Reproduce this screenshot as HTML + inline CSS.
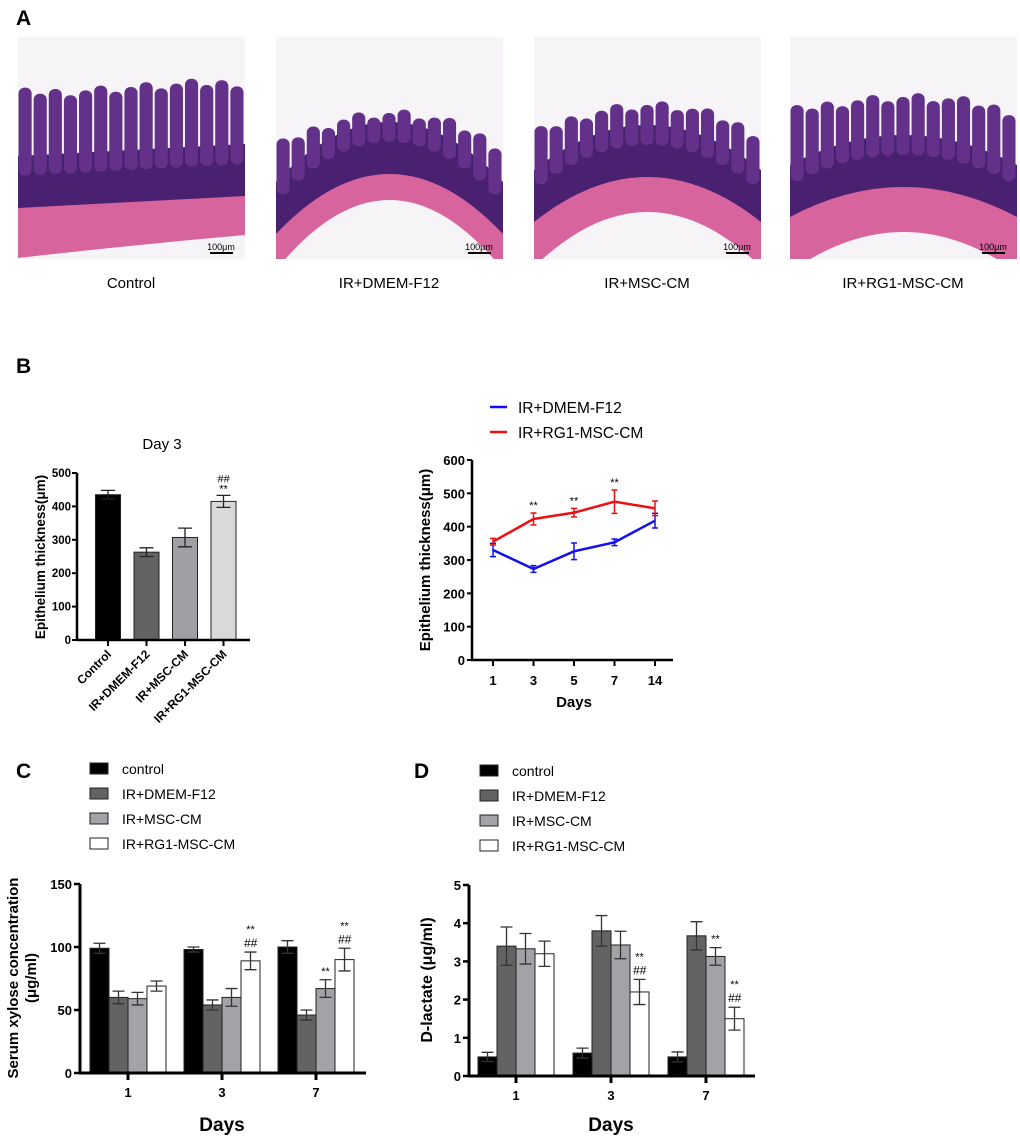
<!DOCTYPE html>
<html><head><meta charset="utf-8">
<style>
body{margin:0;background:#fff;font-family:"Liberation Sans",Arial,sans-serif;}
svg text{font-family:"Liberation Sans",Arial,sans-serif;}
</style></head>
<body>
<svg id="fig" width="1020" height="1141" viewBox="0 0 1020 1141" xmlns="http://www.w3.org/2000/svg">
<rect width="1020" height="1141" fill="#fff"/>
<g font-weight="bold" font-size="21" fill="#000">
<text x="16" y="25">A</text>
<text x="16" y="373">B</text>
<text x="16" y="778">C</text>
<text x="414" y="778">D</text>
</g>
<g id="histo"></g>
<g font-size="15" text-anchor="middle">
<text x="131" y="288">Control</text>
<text x="389" y="288">IR+DMEM-F12</text>
<text x="647" y="288">IR+MSC-CM</text>
<text x="903" y="288">IR+RG1-MSC-CM</text>
</g>
<g id="chartB1"></g>
<g id="chartB2"></g>
<g id="chartC"></g>
<g id="chartD"></g>
</svg>
<script>
const NS="http://www.w3.org/2000/svg";
function mk(parent,tag,attrs,text){const e=document.createElementNS(NS,tag);for(const k in attrs)e.setAttribute(k,attrs[k]);if(text!==undefined)e.textContent=text;parent.appendChild(e);return e;}

// ---------- Histology (illustrative) ----------
const histoPanels=[
 {x:18,w:227,vt:82,vc:0,pt:200,pc:0,pb:245,s:-6,lumen:null,name:'histology-control'},
 {x:276,w:227,vt:108,vc:35,pt:172,pc:60,pb:0,s:0,lumen:[200,70],name:'histology-ir-dmem'},
 {x:534,w:227,vt:100,vc:30,pt:175,pc:45,pb:0,s:0,lumen:[212,55],name:'histology-ir-msc'},
 {x:790,w:227,vt:92,vc:15,pt:185,pc:30,pb:0,s:0,lumen:[232,40],name:'histology-ir-rg1'}
];
const H=document.getElementById('histo');
histoPanels.forEach(p=>{
 const g=mk(H,'g',{});
 
 
 const clipId='clip-'+p.name;
 const cp=mk(g,'clipPath',{id:clipId});
 mk(cp,'rect',{x:p.x,y:37,width:p.w,height:222});
 const inner=mk(g,'g',{'clip-path':`url(#${clipId})`});
 mk(inner,'rect',{x:p.x,y:37,width:p.w,height:222,fill:'#f7f4f7'});
 const X=t=>p.x+(t+1)/2*p.w;
 const f=(b,c,t)=>b+c*t*t+p.s*t;
 const N=40,ts=[];for(let i=0;i<=N;i++)ts.push(-1+2*i/N);
 const line=(b,c)=>ts.map(t=>X(t)+' '+f(b,c,t));
 // pink layer: from pt down to bottom
 mk(inner,'path',{d:'M'+line(p.pt,p.pc).join(' L')+` L${p.x+p.w} 260 L${p.x} 260 Z`,fill:'#d8649e'});
 if(p.lumen){
  mk(inner,'path',{d:'M'+ts.map(t=>X(t)+' '+(p.lumen[0]+p.lumen[1]*t*t)).join(' L')+` L${p.x+p.w} 262 L${p.x} 262 Z`,fill:'#f7f4f7'});
 } else {
  mk(inner,'path',{d:`M${p.x} 262 L${p.x} 258 Q${p.x+p.w/2} ${p.pb} ${p.x+p.w} ${p.pb-10} L${p.x+p.w} 262 Z`,fill:'#f7f4f7'});
 }
 // crypt band
 const up=ts.map(t=>X(t)+' '+(f(p.pt,p.pc,t)-50));
 const dn=ts.slice().reverse().map(t=>X(t)+' '+(f(p.pt,p.pc,t)+2));
 mk(inner,'path',{d:'M'+up.join(' L')+' L'+dn.join(' L')+' Z',fill:'#4a2070'});
 // villi
 const n=Math.round(p.w/15);
 for(let i=0;i<n;i++){
  const t=-1+2*(i+0.5)/n;
  const vx=p.x+i*p.w/n;
  const top=f(p.vt,p.vc,t)+((i*7)%11);
  const bot=f(p.pt,p.pc,t)-30;
  mk(inner,'rect',{x:vx+0.5,y:top,width:p.w/n-2,height:bot-top,rx:6,fill:'#63308a'});
 }
 mk(g,'line',{x1:p.x+p.w-35,y1:253,x2:p.x+p.w-12,y2:253,stroke:'#000','stroke-width':2});
 mk(g,'text',{x:p.x+p.w-24,y:250,'font-size':9,'text-anchor':'middle',fill:'#000'},'100μm');
});

// ---------- Chart B1: Day 3 bars ----------
const b1Cats=['Control','IR+DMEM-F12','IR+MSC-CM','IR+RG1-MSC-CM'];
const b1Vals=[435,263,307,415];
const b1Errs=[13,13,28,18];
const b1Ticks=[0,100,200,300,400,500];
const b1Fills=['#000','#636363','#a0a0a4','#d9d9d9'];
(function(){
 const g=document.getElementById('chartB1');
 const y=v=>640-v*(167/500);
 const x=i=>108+i*38.5;
 mk(g,'text',{x:162,y:449,'font-size':15,'text-anchor':'middle'},'Day 3');
 b1Vals.forEach((v,i)=>{
  const r=mk(g,'rect',{x:x(i)-12.5,y:y(v),width:25,height:640-y(v),fill:b1Fills[i],stroke:'#222','stroke-width':1});
  
  
  const e=b1Errs[i];
  mk(g,'path',{d:`M${x(i)} ${y(v+e)}V${y(v-e)}M${x(i)-7} ${y(v+e)}H${x(i)+7}M${x(i)-7} ${y(v-e)}H${x(i)+7}`,stroke:'#222','stroke-width':1.3,fill:'none'});
 });
 mk(g,'text',{x:x(3),y:y(b1Vals[3]+b1Errs[3])-3,'font-size':11,'text-anchor':'middle'},'**');
 mk(g,'text',{x:x(3),y:y(b1Vals[3]+b1Errs[3])-13,'font-size':11,'text-anchor':'middle','font-style':'italic'},'##');
 mk(g,'path',{d:'M77 473V641M77 640H250',stroke:'#000','stroke-width':2.5,fill:'none'});
 b1Ticks.forEach(t=>{mk(g,'line',{x1:72,y1:y(t),x2:77,y2:y(t),stroke:'#000','stroke-width':2});
  mk(g,'text',{x:71,y:y(t)+4,'font-size':11.5,'font-weight':'bold','text-anchor':'end'},t);});
 b1Cats.forEach((c,i)=>{mk(g,'line',{x1:x(i),y1:640,x2:x(i),y2:646,stroke:'#000','stroke-width':2});
  mk(g,'text',{x:x(i)+4,y:655,'font-size':12,'font-weight':'bold','text-anchor':'end',transform:`rotate(-45 ${x(i)+4} 655)`},c);});
 mk(g,'text',{x:45,y:557,'font-size':13.5,'font-weight':'bold','text-anchor':'middle',transform:'rotate(-90 45 557)'},'Epithelium thickness(μm)');
})();

// ---------- Chart B2: line chart ----------
const b2Days=['1','3','5','7','14'];
const b2Red=[355,423,442,475,455];
const b2RedErr=[10,18,13,35,22];
const b2Blue=[330,273,326,353,418];
const b2BlueErr=[20,10,25,10,22];
const b2Ticks=[0,100,200,300,400,500,600];
const b2Sig=['','**','**','**',''];
(function(){
 const g=document.getElementById('chartB2');
 const y=v=>660-v*(200/600);
 const x=i=>493+i*40.5;
 mk(g,'line',{x1:490,y1:407,x2:507,y2:407,stroke:'#1010ee','stroke-width':2.5});
 mk(g,'text',{x:518,y:413,'font-size':15.5},'IR+DMEM-F12');
 mk(g,'line',{x1:490,y1:432,x2:507,y2:432,stroke:'#ee1010','stroke-width':2.5});
 mk(g,'text',{x:518,y:438,'font-size':15.5},'IR+RG1-MSC-CM');
 [[b2Blue,b2BlueErr,'#1010ee','line-ir-dmem'],[b2Red,b2RedErr,'#ee1010','line-ir-rg1']].forEach(([vals,errs,col,nm])=>{
  const p=mk(g,'polyline',{points:vals.map((v,i)=>x(i)+','+y(v)).join(' '),fill:'none',stroke:col,'stroke-width':2.5});
  
  
  vals.forEach((v,i)=>{const e=errs[i];
   mk(g,'path',{d:`M${x(i)} ${y(v+e)}V${y(v-e)}M${x(i)-3} ${y(v+e)}H${x(i)+3}M${x(i)-3} ${y(v-e)}H${x(i)+3}`,stroke:col,'stroke-width':1.5,fill:'none'});});
 });
 b2Sig.forEach((s,i)=>{if(s)mk(g,'text',{x:x(i),y:y(b2Red[i]+b2RedErr[i])-4,'font-size':11,'text-anchor':'middle'},s);});
 mk(g,'path',{d:'M472 460V661M471 660H673',stroke:'#000','stroke-width':2.5,fill:'none'});
 b2Ticks.forEach(t=>{mk(g,'line',{x1:467,y1:y(t),x2:472,y2:y(t),stroke:'#000','stroke-width':2});
  mk(g,'text',{x:465,y:y(t)+5,'font-size':13,'font-weight':'bold','text-anchor':'end'},t);});
 b2Days.forEach((d,i)=>{mk(g,'line',{x1:x(i),y1:660,x2:x(i),y2:666,stroke:'#000','stroke-width':2});
  mk(g,'text',{x:x(i),y:685,'font-size':13,'font-weight':'bold','text-anchor':'middle'},d);});
 mk(g,'text',{x:574,y:707,'font-size':15,'font-weight':'bold','text-anchor':'middle'},'Days');
 mk(g,'text',{x:430,y:560,'font-size':15,'font-weight':'bold','text-anchor':'middle',transform:'rotate(-90 430 560)'},'Epithelium thickness(μm)');
})();

// ---------- grouped bar helper ----------
const groupFills=['#000','#636363','#a3a3a7','#fff'];
const groupNames=['control','IR+DMEM-F12','IR+MSC-CM','IR+RG1-MSC-CM'];
function grouped(g,o){
 const y=v=>o.y0-v*o.scale;
 o.series.forEach((vals,s)=>{
  vals.forEach((v,i)=>{
   const bx=o.gx(i)-38+s*19;
   const r=mk(g,'rect',{x:bx,y:y(v),width:19,height:o.y0-y(v),fill:groupFills[s],stroke:'#222','stroke-width':1});
   
   
   const e=o.errs[s][i],cx=bx+9.5;
   mk(g,'path',{d:`M${cx} ${y(v+e)}V${y(v-e)}M${cx-6} ${y(v+e)}H${cx+6}M${cx-6} ${y(v-e)}H${cx+6}`,stroke:'#333','stroke-width':1.3,fill:'none'});
   const lbl=o.sig[s][i];
   if(lbl){let ty=y(v+e)-5;
    if(lbl.includes('#')){mk(g,'text',{x:cx,y:ty,'font-size':12,'text-anchor':'middle','font-style':'italic'},'##');ty-=14;}
    if(lbl.includes('*'))mk(g,'text',{x:cx,y:ty,'font-size':11,'text-anchor':'middle'},'**');}
  });
 });
 mk(g,'path',{d:`M${o.ax} ${o.yTop}V${o.y0+1}M${o.ax-1} ${o.y0}H${o.axEnd}`,stroke:'#000','stroke-width':3,fill:'none'});
 o.ticks.forEach(t=>{mk(g,'line',{x1:o.ax-6,y1:y(t),x2:o.ax,y2:y(t),stroke:'#000','stroke-width':2.5});
  mk(g,'text',{x:o.ax-8,y:y(t)+5,'font-size':13,'font-weight':'bold','text-anchor':'end'},t);});
 o.days.forEach((d,i)=>{mk(g,'line',{x1:o.gx(i),y1:o.y0,x2:o.gx(i),y2:o.y0+7,stroke:'#000','stroke-width':3});
  mk(g,'text',{x:o.gx(i),y:o.y0+24,'font-size':13,'font-weight':'bold','text-anchor':'middle'},d);});
 mk(g,'text',{x:o.gx(1),y:1131,'font-size':19,'font-weight':'bold','text-anchor':'middle'},'Days');
 groupNames.forEach((n,s)=>{const ly=o.legY+s*25;
  mk(g,'rect',{x:o.legX,y:ly-6,width:18,height:11,fill:groupFills[s],stroke:'#222','stroke-width':1});
  mk(g,'text',{x:o.legX+32,y:ly+5,'font-size':14},n);});
}

// ---------- Chart C ----------
const cDays=['1','3','7'];
const cControl=[99,98,100];
const cDmem=[60,54,46];
const cMsc=[59,60,67];
const cRg1=[69,89,90];
const cErrControl=[4,2,5], cErrDmem=[5,4,4], cErrMsc=[5,7,7], cErrRg1=[4,7,9];
const cTicks=[0,50,100,150];
(function(){
 const g=document.getElementById('chartC');
 grouped(g,{y0:1073,scale:189/150,ax:80,yTop:884,axEnd:366,gx:i=>128+i*94,days:cDays,
  series:[cControl,cDmem,cMsc,cRg1],errs:[cErrControl,cErrDmem,cErrMsc,cErrRg1],
  sig:[['','',''],['','',''],['','','*'],['','*#','*#']],ticks:cTicks,legX:90,legY:769});
 mk(g,'text',{x:0,y:0,'font-size':15,'font-weight':'bold','text-anchor':'middle',transform:'translate(18 978) rotate(-90)'},'Serum xylose concentration');
 mk(g,'text',{x:0,y:0,'font-size':15,'font-weight':'bold','text-anchor':'middle',transform:'translate(36 978) rotate(-90)'},'(μg/ml)');
})();

// ---------- Chart D ----------
const dDays=['1','3','7'];
const dControl=[0.5,0.6,0.5];
const dDmem=[3.4,3.8,3.67];
const dMsc=[3.33,3.43,3.13];
const dRg1=[3.2,2.2,1.5];
const dErrControl=[0.12,0.13,0.13], dErrDmem=[0.5,0.4,0.37], dErrMsc=[0.4,0.36,0.23], dErrRg1=[0.33,0.33,0.3];
const dTicks=[0,1,2,3,4,5];
(function(){
 const g=document.getElementById('chartD');
 grouped(g,{y0:1076,scale:191/5,ax:469,yTop:885,axEnd:755,gx:i=>516+i*95,days:dDays,
  series:[dControl,dDmem,dMsc,dRg1],errs:[dErrControl,dErrDmem,dErrMsc,dErrRg1],
  sig:[['','',''],['','',''],['','','*'],['','*#','*#']],ticks:dTicks,legX:480,legY:771});
 mk(g,'text',{x:0,y:0,'font-size':16,'font-weight':'bold','text-anchor':'middle',transform:'translate(432 980) rotate(-90)'},'D-lactate (μg/ml)');
})();
</script>
</body></html>
